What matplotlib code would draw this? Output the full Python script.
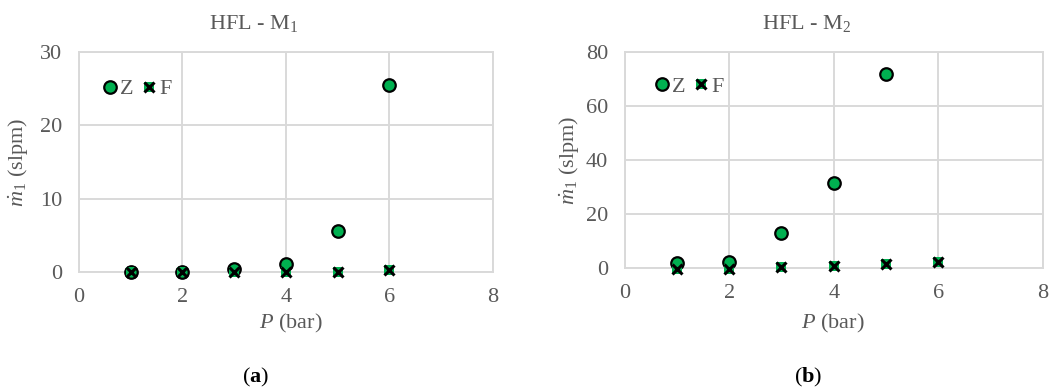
import matplotlib
matplotlib.use("Agg")
import matplotlib.pyplot as plt
from matplotlib.lines import Line2D
from matplotlib.legend_handler import HandlerTuple

plt.rcParams['font.family'] = ['Liberation Serif', 'DejaVu Serif']
plt.rcParams['mathtext.fontset'] = 'custom'
plt.rcParams['mathtext.rm'] = 'Liberation Serif'
plt.rcParams['mathtext.it'] = 'Liberation Serif:italic'
plt.rcParams['mathtext.bf'] = 'Liberation Serif:bold'

# Data
p_left_z = [1, 2, 3, 4, 5, 6]
z_left = [0.0, 0.0, 0.4, 1.1, 5.6, 25.5]
p_left_f = [1, 2, 3, 4, 5, 6]
f_left = [0.0, 0.0, 0.0, 0.0, 0.0, 0.2]

p_right_z = [1, 2, 3, 4, 5]
z_right = [1.6, 2.0, 12.8, 31.6, 71.8]
p_right_f = [1, 2, 3, 4, 5, 6]
f_right = [-0.3, -0.3, 0.4, 0.7, 1.2, 2.0]

titles = ["HFL - M$_1$", "HFL - M$_2$"]
ylims = [(0, 30), (0, 80)]
yticks_list = [[0, 10, 20, 30], [0, 20, 40, 60, 80]]
xticks = [0, 2, 4, 6, 8]
panel_labels = ["a", "b"]

GREEN = '#00B050'
GRAY = '#595959'
GRID = '#D9D9D9'
FS = 16
W, H = 1056, 392

fig = plt.figure(figsize=(10.56, 3.92), dpi=100)
rects = [[79 / W, 1 - 271.7 / H, 413.7 / W, 219.4 / H],
         [624.7 / W, 1 - 267.7 / H, 418 / W, 215.4 / H]]
datasets = [(p_left_z, z_left, p_left_f, f_left), (p_right_z, z_right, p_right_f, f_right)]
leg_anchor = [(0.057, 0.879), (0.071, 0.89)]
title_x = [254, 807]
xlabel_x = [291, 833]
ylabel_x = [18, 569]
ylabel_y = [162, 160]
panel_x = [256, 808]

for i in range(2):
    ax = fig.add_axes(rects[i])
    pz, z, pf, f = datasets[i]
    ax.set_xlim(0, 8)
    ax.set_ylim(*ylims[i])
    ax.set_xticks(xticks)
    ax.set_yticks(yticks_list[i])
    ax.grid(True, color=GRID, linewidth=1.4)
    ax.set_axisbelow(True)
    for s in ax.spines.values():
        s.set_color(GRID)
        s.set_linewidth(1.4)
    ax.tick_params(length=0, labelsize=FS, colors=GRAY, pad=12)
    ax.plot(pz, z, linestyle='none', marker='o', markersize=9, markerfacecolor=GREEN,
            markeredgecolor='black', markeredgewidth=1.6, zorder=3, clip_on=False)
    ax.plot(pf, f, linestyle='none', marker='s', markersize=7.5, color=GREEN, markeredgewidth=0,
            zorder=4, clip_on=False)
    ax.plot(pf, f, linestyle='none', marker='x', markersize=6.5, color='black', markeredgewidth=2.2,
            zorder=5, clip_on=False)

    fig.text(title_x[i] / W, 1 - 23 / H, titles[i], fontsize=FS, color=GRAY, ha='center', va='center')
    fig.text(xlabel_x[i] / W, 1 - 323 / H, "$P$ (bar)", fontsize=FS, color=GRAY, ha='center', va='center')
    fig.text(ylabel_x[i] / W, 1 - ylabel_y[i] / H, r"$\dot{m}_1$ (slpm)", fontsize=FS, color=GRAY,
             ha='center', va='center', rotation=90)

    h_z = Line2D([], [], linestyle='none', marker='o', markersize=9, markerfacecolor=GREEN,
                 markeredgecolor='black', markeredgewidth=1.6)
    h_fs = Line2D([], [], linestyle='none', marker='s', markersize=7.5, color=GREEN, markeredgewidth=0)
    h_fx = Line2D([], [], linestyle='none', marker='x', markersize=6.5, color='black', markeredgewidth=2.2)
    leg = ax.legend([h_z, (h_fs, h_fx)], ["Z", "F"], ncol=2, frameon=False,
                    loc='upper left', bbox_to_anchor=leg_anchor[i],
                    handler_map={tuple: HandlerTuple(ndivide=1, pad=0)},
                    handlelength=0.7, handletextpad=0.1, columnspacing=0.35,
                    fontsize=FS, borderaxespad=0, borderpad=0)
    for t in leg.get_texts():
        t.set_color(GRAY)

    fig.text(panel_x[i] / W, 1 - 377 / H, r"($\mathbf{" + panel_labels[i] + r"}$)",
             ha='center', va='center', fontsize=FS, color='black')

fig.savefig("out.png", dpi=100)
